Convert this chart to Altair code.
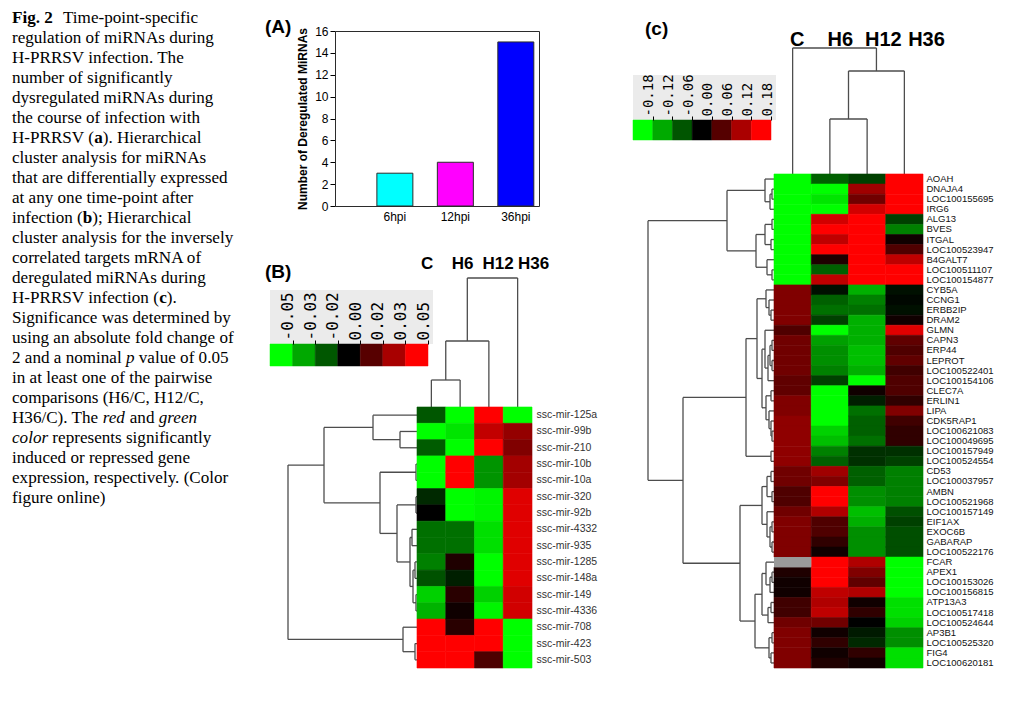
import json
import altair as alt
import pandas as pd

SANS = "Liberation Sans"
SERIF = "Liberation Serif"
MONO = "DejaVu Sans Mono"
LINE = "#4d4d4d"
KEYGRAY = "#ebebeb"
W, H = 1000, 680
CAP_SIZE = 17.1

# ---------------- caption (segments: text, style) ----------------
caption_lines = [
    [("Fig. 2", "b"), ("Time-point-specific", "n")],
    [("regulation of miRNAs during", "n")],
    [("H-PRRSV infection. The", "n")],
    [("number of significantly", "n")],
    [("dysregulated miRNAs during", "n")],
    [("the course of infection with", "n")],
    [("H-PRRSV (", "n"), ("a", "b"), ("). Hierarchical", "n")],
    [("cluster analysis for miRNAs", "n")],
    [("that are differentially expressed", "n")],
    [("at any one time-point after", "n")],
    [("infection (", "n"), ("b", "b"), ("); Hierarchical", "n")],
    [("cluster analysis for the inversely", "n")],
    [("correlated targets mRNA of", "n")],
    [("deregulated miRNAs during", "n")],
    [("H-PRRSV infection (", "n"), ("c", "b"), (").", "n")],
    [("Significance was determined by", "n")],
    [("using an absolute fold change of", "n")],
    [("2 and a nominal ", "n"), ("p", "i"), (" value of 0.05", "n")],
    [("in at least one of the pairwise", "n")],
    [("comparisons (H6/C, H12/C,", "n")],
    [("H36/C). The ", "n"), ("red", "i"), (" and ", "n"), ("green", "i")],
    [("color", "i"), (" represents significantly", "n")],
    [("induced or repressed gene", "n")],
    [("expression, respectively. (Color", "n")],
    [("figure online)", "n")],
]
# Times-compatible advance widths (em) used to place styled runs
TIMES_N = {"H": .722, "-": .333, "P": .556, "R": .667, "S": .556, "V": .722, " ": .25,
           "(": .333, "i": .278, "n": .5, "f": .333, "e": .444, "c": .444, "t": .278,
           "o": .5, "2": .5, "a": .444, "d": .5, "m": .778, "l": .278, "3": .5, "6": .5,
           "/": .278, "C": .667, ")": .333, ".": .25, "T": .611, "h": .5, "r": .333,
           "g": .5, "p": .5}
TIMES_B = {"a": .5, "b": .556, "c": .444}
TIMES_I = {"p": .5, "r": .389, "e": .444, "d": .5, "g": .5, "n": .5, "c": .444, "o": .5, "l": .278}
HEAD_GAP = 51

# ---------------- panel A ----------------
bar_labels = ["6hpi", "12hpi", "36hpi"]
bar_values = [3, 4, 15]
bar_colors = ["#00ffff", "#ff00ff", "#0000ff"]
y_ticks = [0, 2, 4, 6, 8, 10, 12, 14, 16]

# ---------------- panel B ----------------
conds = ["C", "H6", "H12", "H36"]
mirnas = ["ssc-mir-125a", "ssc-mir-99b", "ssc-mir-210", "ssc-mir-10b", "ssc-mir-10a",
          "ssc-mir-320", "ssc-mir-92b", "ssc-mir-4332", "ssc-mir-935", "ssc-mir-1285",
          "ssc-mir-148a", "ssc-mir-149", "ssc-mir-4336", "ssc-mir-708", "ssc-mir-423",
          "ssc-mir-503"]
mir_C = [-0.017, -0.05, -0.018, -0.05, -0.05, -0.008, 0.0, -0.022, -0.022, -0.025,
         -0.016, -0.041, -0.035, 0.05, 0.05, 0.05]
mir_H6 = [-0.05, -0.045, -0.05, 0.05, 0.05, -0.05, -0.05, -0.022, -0.022, 0.006,
          -0.006, 0.008, 0.003, 0.008, 0.05, 0.05]
mir_H12 = [0.05, 0.038, 0.05, -0.029, -0.029, -0.048, -0.048, -0.044, -0.044, -0.05,
           -0.05, -0.041, -0.048, 0.05, 0.05, 0.015]
mir_H36 = [-0.05, 0.029, 0.025, 0.032, 0.032, 0.044, 0.044, 0.044, 0.044, 0.044,
           0.044, 0.041, 0.041, -0.05, -0.05, -0.05]
key_b_values = [-0.05, -0.033, -0.017, 0.0, 0.017, 0.033, 0.05]
key_b_labels = ["-0.05", "-0.03", "-0.02", "0.00", "0.02", "0.03", "0.05"]
tree_b_rows = [
    ("m0", 1, 2, 17), ("m1", 0, "m0", 44), ("m2", 3, 4, 1), ("m3", 5, 6, 1),
    ("m4", 7, 8, 5), ("m5", 9, 10, 2), ("m6", 11, 12, 1), ("m7", "m5", "m6", 4),
    ("m8", "m4", "m7", 7), ("m9", "m3", "m8", 20), ("m10", "m2", "m9", 37),
    ("m11", "m1", "m10", 93), ("m12", 14, 15, 2), ("m13", 13, "m12", 14),
    ("m14", "m11", "m13", 129),
]
tree_b_cols = [("m0", 0, 1, 27), ("m1", "m0", 2, 66), ("m2", "m1", 3, 129)]

# ---------------- panel C ----------------
genes = ["AOAH", "DNAJA4", "LOC100155695", "IRG6", "ALG13", "BVES", "ITGAL",
         "LOC100523947", "B4GALT7", "LOC100511107", "LOC100154877", "CYB5A", "CCNG1",
         "ERBB2IP", "DRAM2", "GLMN", "CAPN3", "ERP44", "LEPROT", "LOC100522401",
         "LOC100154106", "CLEC7A", "ERLIN1", "LIPA", "CDK5RAP1", "LOC100621083",
         "LOC100049695", "LOC100157949", "LOC100524554", "CD53", "LOC100037957", "AMBN",
         "LOC100521968", "LOC100157149", "EIF1AX", "EXOC6B", "GABARAP", "LOC100522176",
         "FCAR", "APEX1", "LOC100153026", "LOC100156815", "ATP13A3", "LOC100517418",
         "LOC100524644", "AP3B1", "LOC100525320", "FIG4", "LOC100620181"]
gene_C = [-0.18, -0.18, -0.18, -0.18, -0.18, -0.18, -0.18, -0.18, -0.18, -0.18, -0.18,
          0.09, 0.09, 0.09, 0.09, 0.056, 0.079, 0.079, 0.079, 0.079, 0.068, 0.068,
          0.09, 0.09, 0.101, 0.101, 0.101, 0.101, 0.101, 0.079, 0.079, 0.056, 0.056,
          0.079, 0.09, 0.09, 0.09, 0.09, None, 0.022, 0.011, 0.011, 0.045, 0.045,
          0.079, 0.09, 0.09, 0.09, 0.09]
gene_H6 = [-0.068, -0.18, -0.162, -0.18, 0.148, 0.18, 0.135, 0.18, 0.022, -0.068, 0.135,
           -0.011, -0.068, -0.079, -0.045, -0.18, -0.113, -0.101, -0.101, -0.09, -0.045,
           -0.18, -0.18, -0.18, -0.18, -0.148, -0.135, -0.09, -0.068, 0.113, 0.09, 0.18,
           0.18, 0.124, 0.056, 0.056, 0.034, 0.011, 0.18, 0.18, 0.18, 0.135, 0.124, 0.135,
           0.079, 0.011, 0.034, 0.011, 0.022]
gene_H12 = [-0.045, 0.113, 0.079, 0.148, 0.18, 0.18, 0.18, 0.18, 0.18, 0.18, 0.18,
            -0.124, -0.09, -0.079, -0.124, -0.124, -0.124, -0.135, -0.135, -0.124, -0.18,
            0.011, -0.022, -0.079, -0.068, -0.068, -0.079, -0.034, -0.034, -0.068, -0.068,
            -0.101, -0.101, -0.135, -0.124, -0.101, -0.101, -0.101, 0.124, 0.09, 0.068,
            0.124, 0.011, 0.034, 0.0, -0.018, -0.029, 0.034, 0.011]
gene_H36 = [0.18, 0.18, 0.18, 0.18, -0.045, -0.09, 0.011, 0.056, 0.135, 0.18, 0.18,
            -0.011, -0.005, -0.011, 0.011, 0.158, 0.068, 0.056, 0.068, 0.045, 0.056,
            0.056, 0.034, 0.09, 0.045, 0.034, 0.034, -0.034, -0.045, -0.09, -0.09, -0.09,
            -0.09, -0.056, -0.045, -0.056, -0.056, -0.056, -0.18, -0.18, -0.18, -0.18,
            -0.158, -0.158, -0.148, -0.101, -0.101, -0.158, -0.158]
key_c_values = [-0.18, -0.12, -0.06, 0.0, 0.06, 0.12, 0.18]
key_c_labels = ["-0.18", "-0.12", "-0.06", "0.00", "0.06", "0.12", "0.18"]
tree_c_rows = [
    ("a0", 1, 2, 2), ("a1", "a0", 3, 4), ("a2", 0, "a1", 9), ("a3", 4, 5, 2),
    ("a4", 6, 7, 3), ("a5", "a3", "a4", 9), ("a6", 9, 10, 2), ("a7", 8, "a6", 7),
    ("a8", "a5", "a7", 18), ("a9", "a2", "a8", 47),
    ("b0", 13, 14, 3), ("b1", 12, "b0", 5), ("b2", 11, "b1", 8), ("b3", 16, 17, 2),
    ("b4", 18, 19, 2), ("b5", "b3", "b4", 4), ("b6", "b5", 20, 6), ("b7", 15, "b6", 9),
    ("b8", 21, 22, 3), ("b9", 25, 26, 2), ("b10", 24, "b9", 3), ("b11", 23, "b10", 5),
    ("b12", "b8", "b11", 8), ("b13", "b7", "b12", 12), ("b14", "b2", "b13", 17),
    ("b15", 27, 28, 3), ("b16", "b14", "b15", 28),
    ("c0", 29, 30, 3), ("c1", 31, 32, 2), ("c2", "c0", "c1", 7), ("c3", 34, 35, 2),
    ("c4", 36, 37, 2), ("c5", "c3", "c4", 4), ("c6", 33, "c5", 7), ("c7", "c2", "c6", 12),
    ("d0", 39, 40, 2), ("d1", "d0", 41, 4), ("d2", 38, "d1", 8), ("d3", 42, 43, 3),
    ("d4", "d3", 44, 6), ("d5", "d2", "d4", 12), ("d6", 45, 46, 2), ("d7", 47, 48, 3),
    ("d8", "d6", "d7", 5), ("d9", "d5", "d8", 19),
    ("e0", "c7", "d9", 34), ("e1", "b16", "e0", 91), ("r", "a9", "e1", 126),
]
tree_c_cols = [("m0", 1, 2, 55), ("m1", "m0", 3, 103), ("m2", 0, "m1", 126)]


# ---------------- helpers ----------------
def lin(domain, rng, **kw):
    return alt.Scale(domain=domain, range=rng, nice=False, zero=False, **kw)


def band(domain, rng, **kw):
    return alt.Scale(domain=domain, range=rng, paddingInner=0, paddingOuter=0, **kw)


def colscale(vmax):
    return alt.Scale(domain=[-vmax, 0, vmax], range=["#00ff00", "#000000", "#ff0000"],
                     clamp=True, interpolate="rgb")


def tree_segments(merges, n):
    pos = {i: i + 0.5 for i in range(n)}
    hgt = {i: 0.0 for i in range(n)}
    seg = []
    for name, a, b, h in merges:
        seg.append({"p1": pos[a], "p2": pos[a], "h1": hgt[a], "h2": h})
        seg.append({"p1": pos[b], "p2": pos[b], "h1": hgt[b], "h2": h})
        seg.append({"p1": pos[a], "p2": pos[b], "h1": h, "h2": h})
        pos[name] = (pos[a] + pos[b]) / 2
        hgt[name] = h
    return pd.DataFrame(seg)


def run_width(text, style):
    table = {"n": TIMES_N, "b": TIMES_B, "i": TIMES_I}[style]
    return sum(table.get(ch, TIMES_N.get(ch, 0.5)) for ch in text) * CAP_SIZE


def label(text, x, y, size=19):
    return alt.Chart(pd.DataFrame({"t": [text]})).mark_text(
        align="left", baseline="middle", font=SANS, fontSize=size, fontWeight="bold",
        color="black").encode(x=alt.value(x), y=alt.value(y), text="t:N")


def row_dendro(merges, n, hmax, xr, yr):
    df = tree_segments(merges, n)
    return alt.Chart(df).mark_rule(color=LINE, strokeWidth=1.3).encode(
        x=alt.X("h1:Q", scale=lin([0, hmax], xr), axis=None), x2="h2:Q",
        y=alt.Y("p1:Q", scale=lin([0, n], yr), axis=None), y2="p2:Q")


def col_dendro(merges, hmax, xr, yr):
    df = tree_segments(merges, 4)
    return alt.Chart(df).mark_rule(color=LINE, strokeWidth=1.3).encode(
        x=alt.X("p1:Q", scale=lin([0, 4], xr), axis=None), x2="p2:Q",
        y=alt.Y("h1:Q", scale=lin([0, hmax], yr), axis=None), y2="h2:Q")


def headers(xr, offset, size):
    return alt.Chart(pd.DataFrame({"cond": conds})).mark_point(opacity=0).encode(
        x=alt.X("cond:N", scale=alt.Scale(type="point", domain=conds, range=xr, padding=0),
                axis=alt.Axis(orient="top", offset=offset, title=None, ticks=False, domain=False,
                              labelAngle=0, labelFont=SANS, labelFontSize=size,
                              labelFontWeight="bold", labelColor="black", labelPadding=0,
                              labelBaseline="alphabetic", grid=False, zindex=1)))


def heat_layers(rows, cols_vals, vmax, xr, yr, fsize, fcolor, pad):
    recs = []
    for ci, cname in enumerate(conds):
        for ri, rname in enumerate(rows):
            recs.append({"row": rname, "cond": cname, "v": cols_vals[ci][ri]})
    df = pd.DataFrame(recs)
    main = alt.Chart(df).mark_rect(strokeWidth=0.6).encode(
        x=alt.X("cond:N", scale=band(conds, xr), axis=None),
        y=alt.Y("row:N", scale=band(rows, yr),
                axis=alt.Axis(orient="right", offset=-(W - xr[1]), title=None, ticks=False,
                              domain=False, labelPadding=pad, labelFont=SANS,
                              labelFontSize=fsize, labelColor=fcolor, grid=False, zindex=1)),
        color=alt.Color("v:Q", scale=colscale(vmax), legend=None),
        stroke=alt.Stroke("v:Q", scale=colscale(vmax), legend=None),
    ).transform_filter("isValid(datum.v)")
    na = alt.Chart(df).mark_rect(color="#9a9a9a").encode(
        x=alt.X("cond:N", scale=band(conds, xr), axis=None),
        y=alt.Y("row:N", scale=band(rows, yr), axis=None),
    ).transform_filter("!isValid(datum.v)")
    return [main, na]


def key_layers(values, labels, vmax, xr, yr, gray_box, fsize):
    df = pd.DataFrame({"i": list(range(len(values))), "v": values, "k": ["key"] * len(values)})
    expr = json.dumps(labels) + "[datum.value - 1]"
    gx0, gx1, gy0, gy1 = gray_box
    gray = alt.Chart(pd.DataFrame({"k": [0]})).mark_rect(color=KEYGRAY).encode(
        x=alt.value(gx0), x2=alt.value(gx1), y=alt.value(gy0), y2=alt.value(gy1))
    bar = alt.Chart(df).transform_calculate(i1="datum.i + 1").mark_rect(strokeWidth=0.5).encode(
        x=alt.X("i:Q", scale=lin([0, len(values)], xr),
                axis=alt.Axis(orient="top", offset=-yr[0], values=list(range(1, len(values) + 1)),
                              labelExpr=expr, labelAngle=270, labelAlign="left",
                              labelBaseline="alphabetic", labelFont=MONO, labelFontSize=fsize,
                              labelColor="black", ticks=True, tickSize=4, tickColor="black",
                              domain=False, labelPadding=0, title=None, grid=False,
                              labelOverlap=False, labelFlush=False, zindex=2)),
        x2="i1:Q",
        y=alt.Y("k:N", scale=band(["key"], yr), axis=None),
        color=alt.Color("v:Q", scale=colscale(vmax), legend=None),
        stroke=alt.Stroke("v:Q", scale=colscale(vmax), legend=None),
    )
    return [gray, bar]


layers = []

# ---------------- caption ----------------
ysc = lin([1, 25], [11.5, 491.5])
segs = []
space_w = TIMES_N[" "] * CAP_SIZE
for li, line in enumerate(caption_lines, start=1):
    off = 0.0
    for si, (t, st) in enumerate(line):
        lead = len(t) - len(t.lstrip(" "))
        segs.append({"line": li, "text": t.strip(" "), "style": st,
                     "off": round(off + lead * space_w, 2)})
        off += run_width(t, st)
        if li == 1 and si == 0:
            off = HEAD_GAP
seg_df = pd.DataFrame(segs)
for st, weight, fstyle in [("n", "normal", "normal"), ("b", "bold", "normal"), ("i", "normal", "italic")]:
    sub = seg_df[seg_df["style"] == st]
    for off, grp in sub.groupby("off"):
        layers.append(alt.Chart(grp[["line", "text"]]).mark_text(
            align="left", baseline="alphabetic", font=SERIF, fontSize=CAP_SIZE, color="black",
            fontWeight=weight, fontStyle=fstyle, dx=float(off)).encode(
            x=alt.value(4), y=alt.Y("line:Q", scale=ysc, axis=None), text="text:N"))

# ---------------- panel labels ----------------
layers.append(label("(A)", 257, 15.5))
layers.append(label("(B)", 257, 260.5))
layers.append(label("(c)", 637, 18))

# ---------------- panel A ----------------
dfA = pd.DataFrame({"time": bar_labels, "count": bar_values})
xA = alt.Scale(domain=bar_labels, range=[327, 531], paddingInner=0.405, paddingOuter=0.389, align=0.89)
yA = lin([0, 16], [195, 20])
layers.append(alt.Chart(dfA).mark_bar(stroke="#2b2b2b", strokeWidth=1).encode(
    x=alt.X("time:N", sort=bar_labels, scale=xA,
            axis=alt.Axis(orient="bottom", offset=-(H - 195), title=None, labelAngle=0,
                          ticks=False, labelPadding=5, labelFontSize=12, labelFont=SANS,
                          labelColor="black", domainColor="#2b2b2b", grid=False, zindex=1)),
    y=alt.Y("count:Q", scale=yA,
            axis=alt.Axis(orient="left", offset=-327, values=y_ticks,
                          title="Number of Deregulated MiRNAs", titleFontSize=12,
                          titleFontWeight="bold", titleFont=SANS, titleColor="black",
                          titlePadding=5, labelFontSize=12, labelFont=SANS, labelColor="black",
                          tickSize=5, tickColor="black", domainColor="#2b2b2b",
                          labelPadding=2, grid=False, zindex=1)),
    color=alt.Color("time:N", scale=alt.Scale(domain=bar_labels, range=bar_colors), legend=None),
))
layers.append(alt.Chart(dfA).mark_bar(opacity=0).encode(
    x=alt.X("time:N", sort=bar_labels, scale=xA,
            axis=alt.Axis(orient="top", offset=-20, labels=False, ticks=False, title=None,
                          domainColor="#2b2b2b", grid=False)),
    y=alt.Y("count:Q", scale=yA,
            axis=alt.Axis(orient="right", offset=-(W - 531), labels=False, ticks=False,
                          title=None, domainColor="#2b2b2b", grid=False)),
))

# ---------------- panel B ----------------
layers += key_layers(key_b_values, key_b_labels, 0.05, [262, 420], [333, 355],
                     (262, 425, 279, 333), 16)
layers.append(col_dendro(tree_b_cols, 129, [409, 524], [396, 267]))
layers.append(headers([418.7, 525], -257, 17))
layers.append(row_dendro(tree_b_rows, len(mirnas), 129, [409, 280], [396, 657]))
layers += heat_layers(mirnas, [mir_C, mir_H6, mir_H12, mir_H36], 0.05, [409, 524], [396, 657],
                      10.5, "#333333", 4)

# ---------------- panel C ----------------
layers += key_layers(key_c_values, key_c_labels, 0.18, [625, 763], [109, 129],
                     (625, 768, 64, 109), 14)
layers.append(col_dendro(tree_c_cols, 126, [766, 915], [163, 37]))
layers.append(headers([788.7, 918], -34, 20))
layers.append(row_dendro(tree_c_rows, len(genes), 126, [766, 640], [163, 657]))
layers += heat_layers(genes, [gene_C, gene_H6, gene_H12, gene_H36], 0.18, [766, 915], [163, 657],
                      9.5, "#111111", 3)

chart = alt.layer(*layers).resolve_scale(
    x="independent", y="independent", color="independent", stroke="independent"
).resolve_axis(x="independent", y="independent").properties(
    width=W, height=H, padding=0
).configure(font=SANS).configure_view(stroke=None)

chart.save("out.html", embed_options={"renderer": "svg", "actions": False})
